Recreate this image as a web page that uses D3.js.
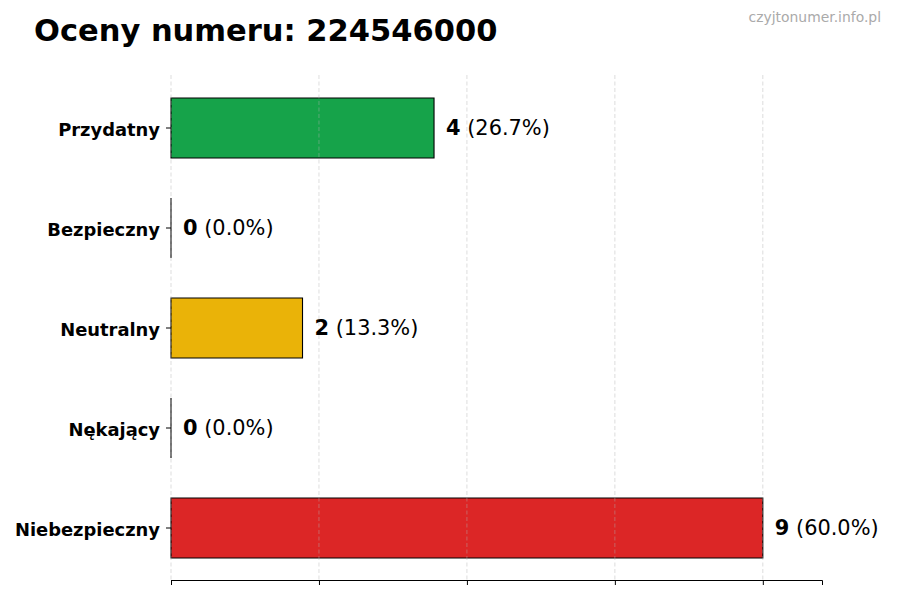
<!DOCTYPE html>
<html><head><meta charset="utf-8">
<script src="https://cdn.jsdelivr.net/npm/d3@7"></script>
<style>body{margin:0;background:#fff;font-family:"DejaVu Sans",sans-serif;}</style>
</head><body><svg id="c" width="900" height="600"></svg>
<script>
const categories = ["Przydatny","Bezpieczny","Neutralny","Nękający","Niebezpieczny"];
const values = [4,0,2,0,9];
const colors = ["#16a34a","#9ca3af","#eab308","#f97316","#dc2626"];
const xTicks = [0,2.25,4.5,6.75,9];
const total = d3.sum(values);

const svg = d3.select("#c");
const x = d3.scaleLinear().domain([0,9.9]).range([171,822]);
const y = d3.scaleBand().domain(categories).range([78,578]).paddingInner(0.4).paddingOuter(0.2);

svg.append("text").attr("x",34).attr("y",41).attr("font-size",30.5).attr("font-weight","bold").attr("fill","#000").text("Oceny numeru: 224546000");
svg.append("text").attr("x",881).attr("y",22).attr("text-anchor","end").attr("font-size",13.9).attr("fill","#aaa").text("czyjtonumer.info.pl");

svg.append("g").selectAll("path").data(values).join("path")
  .attr("d",(d,i)=>{const x0=x(0),y0=y(categories[i]),w=x(d)-x(0),h=y.bandwidth();return `M${x0},${y0}h${w}v${h}h${-w}Z`;})
  .attr("fill",(d,i)=>colors[i]).attr("stroke","#000").attr("stroke-width",1.1);

svg.append("g").selectAll("line").data(xTicks).join("line")
  .attr("x1",d=>x(d)).attr("x2",d=>x(d)).attr("y1",75).attr("y2",580)
  .attr("stroke","#b0b0b0").attr("stroke-opacity",0.55).attr("stroke-dasharray","4,2.5").attr("stroke-width",0.8);

const xa = svg.append("g").attr("transform","translate(0,580)")
  .call(d3.axisBottom(x).tickValues(xTicks).tickFormat("").tickSizeOuter(0).tickSize(5));
xa.select(".domain").attr("stroke","#000");
xa.selectAll(".tick line").attr("stroke","#000");

const ya = svg.append("g").attr("transform","translate(171,0)")
  .call(d3.axisLeft(y).tickSize(5).tickPadding(6));
ya.select(".domain").remove();
ya.selectAll(".tick line").attr("stroke","#000");
ya.selectAll(".tick text").attr("font-size",17.9).attr("font-weight","bold").attr("fill","#000").attr("font-family","DejaVu Sans").attr("dy","0.42em");

const lab = svg.append("g").selectAll("text").data(values).join("text")
  .attr("x",d=>x(d)+12).attr("y",(d,i)=>y(categories[i])+y.bandwidth()/2).attr("dy","0.35em")
  .attr("font-size",20.9).attr("fill","#000");
lab.append("tspan").attr("font-weight","bold").text(d=>d);
lab.append("tspan").text(d=>" ("+(d/total*100).toFixed(1)+"%)");
</script></body></html>
